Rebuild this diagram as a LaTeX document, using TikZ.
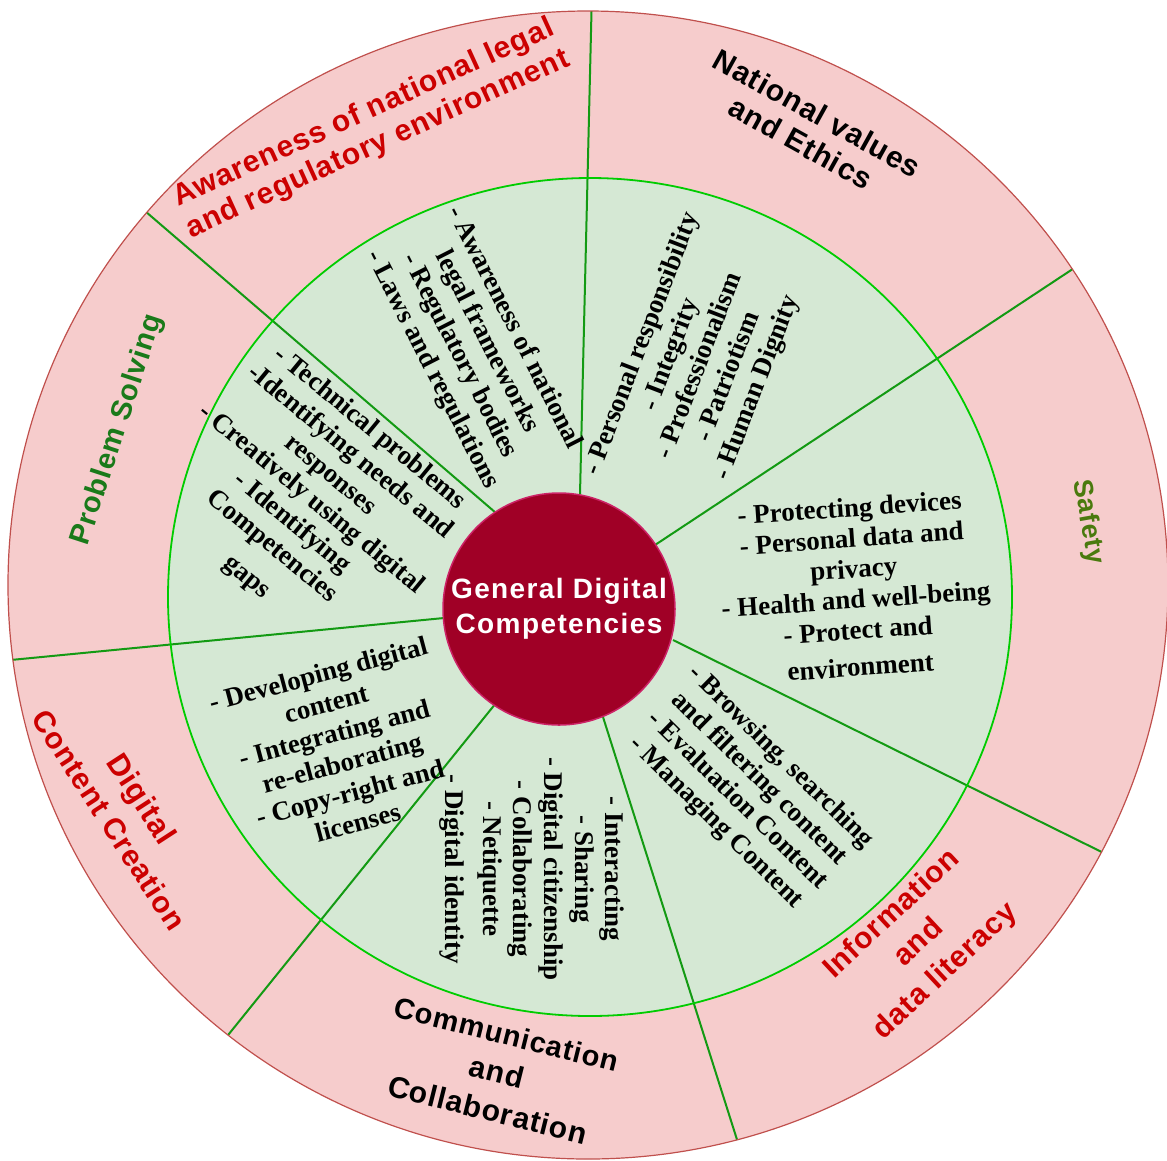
\documentclass[tikz,border=0pt]{standalone}
\usepackage{fontspec}
\setmainfont{Liberation Serif}
\newfontfamily\labelfont[LetterSpace=3]{Liberation Sans}
\newfontfamily\hubfont[LetterSpace=5]{Liberation Sans}

\definecolor{ringpink}{HTML}{F6CCCC}
\definecolor{ringedge}{HTML}{C0504D}
\definecolor{midgreen}{HTML}{D5E8D4}
\definecolor{midedge}{HTML}{00CC00}
\definecolor{divgreen}{HTML}{139A13}
\definecolor{hubred}{HTML}{A00026}
\definecolor{hubedge}{HTML}{CC2266}
\definecolor{labelred}{HTML}{CC0000}
\definecolor{safegreen}{HTML}{4A7A0E}
\definecolor{solvegreen}{HTML}{1A7A1A}

\begin{document}
\begin{tikzpicture}[x=1pt, y=-1pt,
  ring/.style={align=center, inner sep=0pt, font=\labelfont\bfseries\fontsize{30}{39}\selectfont},
  tightring/.style={align=center, inner sep=0pt, font=\labelfont\bfseries\fontsize{30}{34}\selectfont},
  item/.style={align=center, inner sep=0pt, font=\bfseries\fontsize{27}{30.7}\selectfont},
  divider/.style={draw=divgreen, line width=2pt},
  hub/.style={circle, fill=hubred, draw=hubedge, line width=1.5pt, minimum size=232pt, inner sep=0pt,
    text=white, align=center, font=\hubfont\bfseries\fontsize{28}{35}\selectfont}
]
\clip (0,0) rectangle (1167,1160);

% rings
\coordinate (c) at (588,585);
\coordinate (m) at (590,597);
\fill[ringpink] (c) ellipse [x radius=580, y radius=574];
\fill[midgreen] (m) ellipse [x radius=422, y radius=419];

% sector borders
\coordinate (i1) at (580,494);  \coordinate (o1) at (592,-10);
\coordinate (i2) at (496,513);  \coordinate (o2) at (138,205);
\coordinate (i3) at (444,618);  \coordinate (o3) at (-10,662);
\coordinate (i4) at (496,703);  \coordinate (o4) at (216,1050);
\coordinate (i5) at (603,717);  \coordinate (o5) at (746,1168);
\coordinate (i6) at (673,640);  \coordinate (o6) at (1130,866);
\coordinate (i7) at (655,545);  \coordinate (o7) at (1100,251);
\begin{scope}
  \clip (c) ellipse [x radius=580, y radius=574];
  \foreach \k in {1,...,7}
    \draw[divider] (i\k) -- (o\k);
\end{scope}
\draw[midedge, line width=1.8pt] (m) ellipse [x radius=422, y radius=419];
\draw[ringedge, line width=1.2pt] (c) ellipse [x radius=580, y radius=574];

\node[hub] (hub) at (559,609) {General Digital\\Competencies};

% sector titles
\node[tightring, text=labelred, rotate=24.5] (awtitle) at (371,129) {Awareness of national legal\\and regulatory environment};
\node[tightring, rotate=-29] (valtitle) at (809,128) {National values\\and Ethics};
\node[ring, text=safegreen, rotate=-80] (safetitle) at (1088,522) {\fontsize{27}{30}\selectfont Safety};
\node[ring, text=labelred, rotate=43] (infotitle) at (919,943) {Information\\and\\data literacy};
\node[ring, rotate=-14] (commtitle) at (497,1072) {\fontsize{29}{39}\selectfont Communication\\and\\Collaboration};
\node[ring, text=labelred, rotate=-57] (digtitle) at (126,809) {\fontsize{31}{40}\selectfont Digital\\Content Creation};
\node[ring, text=solvegreen, rotate=72] (solvetitle) at (118,430) {\fontsize{29}{36}\selectfont Problem Solving};

% sector contents
\node[item, rotate=-63] (awlist) at (473,349) {- Awareness of national\\legal frameworks\\- Regulatory bodies\\- Laws and regulations};
\node[item, rotate=69] (vallist) at (700,366) {- Personal responsibility\\- Integrity\\- Professionalism\\- Patriotism\\- Human Dignity};
\node[item, rotate=4] (safelist) at (855,587) {- Protecting devices\\- Personal data and\\privacy\\- Health and well-being\\- Protect and\\[6pt]environment};
\node[item, rotate=-44.5] (infolist) at (748,790) {- Browsing, searching\\and filtering content\\- Evaluation Content\\- Managing Content};
\node[item, rotate=-90] (commlist) at (532,869) {- Interacting\\- Sharing\\- Digital citizenship\\- Collaborating\\- Netiquette\\[7pt]- Digital identity};
\node[item, rotate=15] (diglist) at (338,748) {- Developing digital\\content\\- Integrating and\\re-elaborating\\- Copy-right and\\licenses};
\node[item, rotate=-39.5] (solvelist) at (308,503) {- Technical problems\\-Identifying needs and\\responses\\- Creatively using digital\\- Identifying\\Competencies\\[9pt]gaps};
\end{tikzpicture}
\end{document}
